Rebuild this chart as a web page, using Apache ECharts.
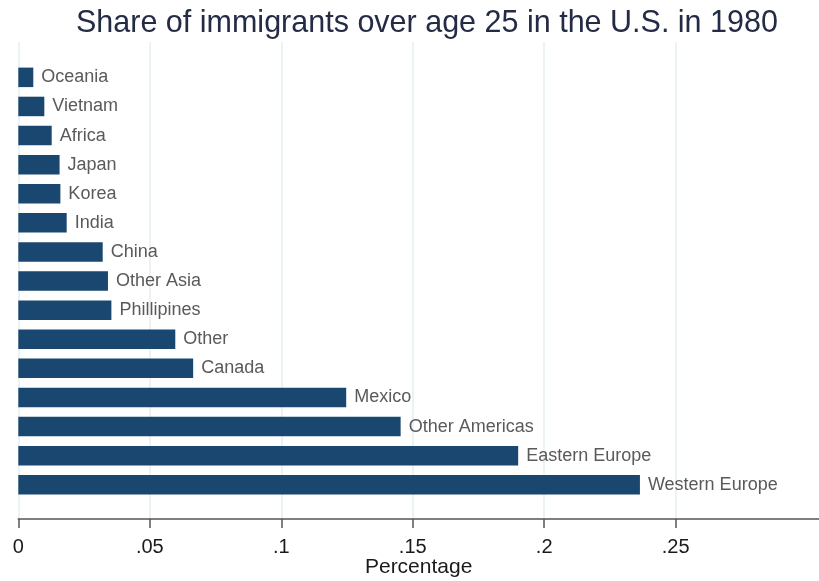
<!DOCTYPE html>
<html>
<head>
<meta charset="utf-8">
<script src="https://cdn.jsdelivr.net/npm/echarts@6/dist/echarts.min.js"></script>
<style>
html,body{margin:0;padding:0;background:#fff;}
#bar{width:819px;height:581px;}
</style>
</head>
<body>
<div id="bar"></div>
<script>
// regions, top to bottom
var regions = ['Oceania','Vietnam','Africa','Japan','Korea','India','China','Other Asia','Phillipines','Other','Canada','Mexico','Other Americas','Eastern Europe','Western Europe'];
var shares = [0.0057,0.0099,0.0127,0.0157,0.016,0.0184,0.0321,0.0341,0.0354,0.0597,0.0665,0.1247,0.1454,0.1901,0.2364];
var tickValues = [0,0.05,0.1,0.15,0.2,0.25];

window.onload = function(){
	var xMax = 0.3045;
	var myChart = echarts.init(document.getElementById('bar'));
	var option = {
		backgroundColor:'#fff',
		animation:false,
		title:{
			text:'Share of immigrants over age 25 in the U.S. in 1980',
			left:71,
			top:3,
			textStyle:{
				fontFamily:'Liberation Sans',
				fontSize:30.5,
				fontWeight:'normal',
				color:'#232b45'
			}
		},
		grid:[
			{left:18.3, right:0, top:42, bottom:62, outerBoundsMode:'none'},
			{left:18.3, right:0, top:62.8, height:436.5, outerBoundsMode:'none'}
		],
		xAxis:[{
			gridIndex:0,
			type:'value',
			min:0,
			max:xMax,
			name:'Percentage',
			nameLocation:'middle',
			nameGap:38,
			nameMoveOverlap:false,
			nameTextStyle:{fontFamily:'Liberation Sans',fontSize:21,color:'#1a1a1a'},
			axisLine:{show:true,lineStyle:{color:'#555',width:1.5}},
			axisTick:{show:true,length:9,customValues:tickValues,lineStyle:{color:'#555',width:1.5}},
			axisLabel:{
				customValues:tickValues,
				margin:18,
				fontFamily:'Liberation Sans',
				fontSize:20,
				color:'#1a1a1a',
				formatter:function(v){return v===0?'0':String(v).replace(/^0\./,'.');}
			},
			splitLine:{show:true,customValues:tickValues,lineStyle:{color:'#e6eff2',width:1.5}}
		},{
			gridIndex:1,
			type:'value',
			min:0,
			max:xMax,
			show:false
		}],
		yAxis:[{
			gridIndex:0,
			type:'value',
			show:false
		},{
			gridIndex:1,
			type:'category',
			inverse:true,
			data:regions,
			show:false
		}],
		series:[{
			type:'bar',
			xAxisIndex:1,
			yAxisIndex:1,
			data:shares,
			barWidth:19.5,
			itemStyle:{color:'#1a476f'},
			label:{
				show:true,
				position:'right',
				distance:8,
				fontFamily:'Liberation Sans',
				fontSize:18,
				color:'#5a5a5a',
				formatter:function(p){return p.name;}
			}
		}]
	};
	myChart.setOption(option);
	window.addEventListener('resize',function(){
		myChart.resize()
	})
}
</script>
</body>
</html>
